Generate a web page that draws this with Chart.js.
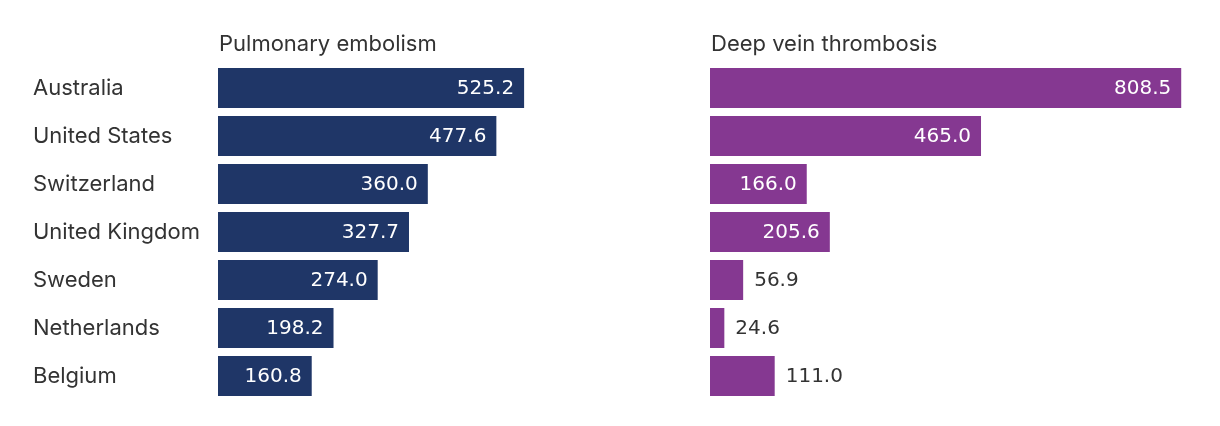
<!DOCTYPE html>
<html>
<head>
<meta charset="utf-8">
<script src="https://cdn.jsdelivr.net/npm/chart.js@4/dist/chart.umd.min.js"></script>
<style>
  html, body { margin: 0; padding: 0; background: #fff; }
  #wrap { position: relative; width: 1220px; height: 426px; }
  .panel { position: absolute; top: 0; height: 426px; }
  .ttl { position: absolute; top: 30px; font-family: Inter, "Noto Sans", sans-serif; font-size: 22px; color: #333; white-space: nowrap; }
</style>
</head>
<body>
<div id="wrap">
  <div class="panel" style="left:0;width:700px"><canvas id="c1"></canvas></div>
  <div class="panel" style="left:700px;width:520px"><canvas id="c2"></canvas></div>
  <div class="ttl" style="left:219px">Pulmonary embolism</div>
  <div class="ttl" style="left:711px">Deep vein thrombosis</div>
</div>
<script>
const countries = ["Australia", "United States", "Switzerland", "United Kingdom", "Sweden", "Netherlands", "Belgium"];
const pulmonaryEmbolism = [525.2, 477.6, 360.0, 327.7, 274.0, 198.2, 160.8];
const deepVeinThrombosis = [808.5, 465.0, 166.0, 205.6, 56.9, 24.6, 111.0];
const seriesNames = ["Pulmonary embolism", "Deep vein thrombosis"];

const NAVY = "#1f3667";
const PURPLE = "#853891";
const TEXT = "#333333";
const XMAX = 827;

const valueLabels = {
  id: "valueLabels",
  afterDatasetsDraw(chart) {
    const ctx = chart.ctx;
    const meta = chart.getDatasetMeta(0);
    const data = chart.data.datasets[0].data;
    ctx.save();
    ctx.font = '20px "DejaVu Sans", sans-serif';
    ctx.textBaseline = "middle";
    meta.data.forEach((bar, i) => {
      const txt = data[i].toFixed(1);
      const w = ctx.measureText(txt).width;
      const barW = bar.x - bar.base;
      if (barW >= w + 22) {
        ctx.fillStyle = "#ffffff";
        ctx.textAlign = "right";
        ctx.fillText(txt, bar.x - 10, bar.y + 1);
      } else {
        ctx.fillStyle = TEXT;
        ctx.textAlign = "left";
        ctx.fillText(txt, bar.x + 11, bar.y + 1);
      }
    });
    ctx.restore();
  }
};

function makeChart(id, values, color, name, showLabels, padding) {
  return new Chart(document.getElementById(id), {
    type: "bar",
    data: {
      labels: countries,
      datasets: [{
        label: name,
        data: values,
        backgroundColor: color,
        borderWidth: 0,
        barPercentage: 40 / 48,
        categoryPercentage: 1
      }]
    },
    options: {
      indexAxis: "y",
      responsive: true,
      maintainAspectRatio: false,
      animation: false,
      layout: { padding: padding },
      plugins: { legend: { display: false }, tooltip: { enabled: false }, title: { display: false } },
      scales: {
        x: { display: false, min: 0, max: XMAX, grid: { display: false } },
        y: {
          display: showLabels,
          offset: true,
          grid: { display: false },
          border: { display: false },
          ticks: {
            crossAlign: "far",
            color: TEXT,
            font: { family: 'Inter, "Noto Sans", sans-serif', size: 22 }
          },
          afterFit(scale) { if (showLabels) scale.width = 185; }
        }
      }
    },
    plugins: [valueLabels]
  });
}

makeChart("c1", pulmonaryEmbolism, NAVY, seriesNames[0], true, { left: 33, right: 0, top: 64, bottom: 26 });
makeChart("c2", deepVeinThrombosis, PURPLE, seriesNames[1], false, { left: 10, right: 28, top: 64, bottom: 26 });
</script>
</body>
</html>
